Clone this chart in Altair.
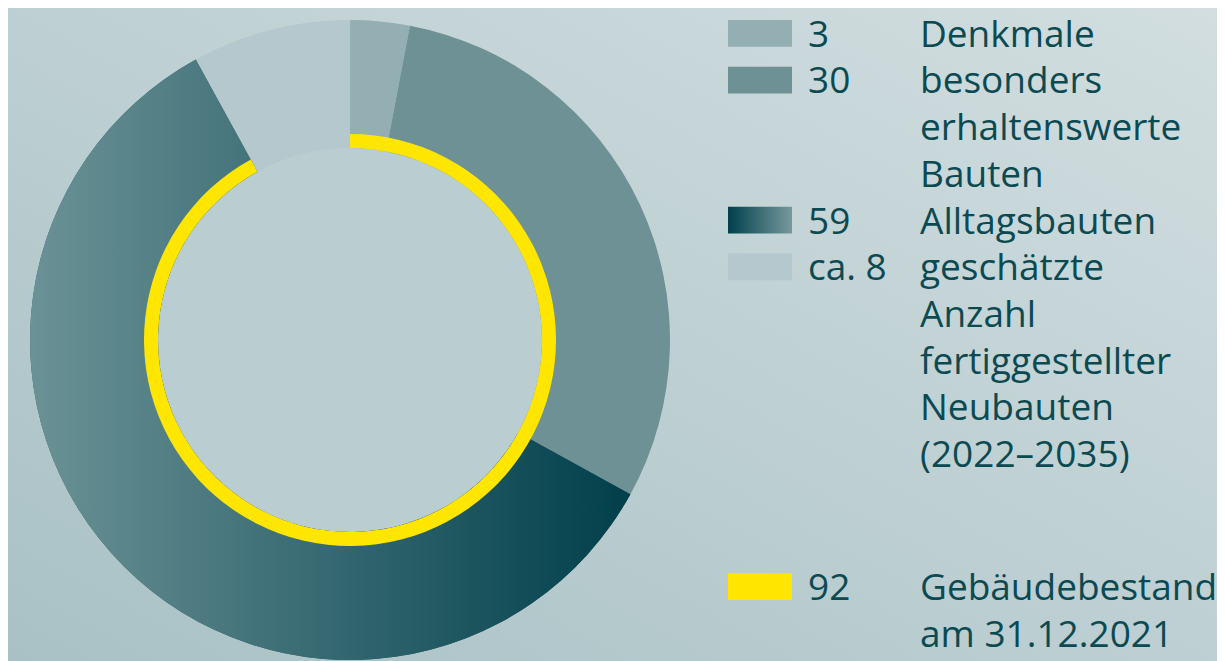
import altair as alt
import pandas as pd

# ---------------- data ----------------
categories = [
    "Denkmale",
    "besonders erhaltenswerte Bauten",
    "Alltagsbauten",
    "geschätzte Anzahl fertiggestellter Neubauten (2022–2035)",
]
values = [3, 30, 59, 8]
value_labels = ["3", "30", "59", "ca. 8"]
desc_lines = [
    ["Denkmale"],
    ["besonders", "erhaltenswerte", "Bauten"],
    ["Alltagsbauten"],
    ["geschätzte", "Anzahl", "fertiggestellter", "Neubauten", "(2022–2035)"],
]
stock_value = 92
stock_value_label = "92"
stock_lines = ["Gebäudebestand", "am 31.12.2021"]
total = 100

# ---------------- styles ----------------
W, H = 1209, 653
CX, CY = 342, 332
R_OUT, R_IN = 320, 192
RING_OUT = 206
seg_colors = ["#93afb4", "#6d9194", "#2f5f67", "#b4c8cd"]
yellow = "#ffe600"
text_color = "#0c4a52"
FONT = "Open Sans"
FS = 37
LH = 46.7
FIRST_BASE = 38.7
STOCK_BASE = 592
SW_X1, SW_X2 = 720, 784
NUM_X, DESC_X = 800, 912
CAP = 26.7

grad_59 = alt.LinearGradient(
    gradient="linear",
    stops=[
        alt.GradientStop(color="#6b9296", offset=0),
        alt.GradientStop(color="#003f4b", offset=1),
    ],
    x1=0, x2=1, y1=0, y2=0,
)
grad_59_legend = alt.LinearGradient(
    gradient="linear",
    stops=[
        alt.GradientStop(color="#00404c", offset=0),
        alt.GradientStop(color="#77999c", offset=1),
    ],
    x1=0, x2=1, y1=0, y2=0,
)
bg_grad = alt.LinearGradient(
    gradient="linear",
    stops=[
        alt.GradientStop(color="#a9c1c5", offset=0),
        alt.GradientStop(color="#d2dee0", offset=1),
    ],
    x1=0, x2=1, y1=1, y2=0,
)

seg_df = pd.DataFrame({
    "cat": categories,
    "value": values,
    "order": list(range(len(categories))),
    "label": value_labels,
    "desc": ["\n".join(l) for l in desc_lines],
})

theta_scale = alt.Scale(domain=[0, total])

# background
bg = alt.Chart(pd.DataFrame({"a": [0]})).mark_rect(color=bg_grad).encode(
    x=alt.value(0), x2=alt.value(W), y=alt.value(0), y2=alt.value(H)
)

# inner disc
inner = alt.Chart(pd.DataFrame({"s": [0], "e": [total]})).mark_arc(
    radius=R_IN, radius2=0, color="#bacdd1"
).encode(
    theta=alt.Theta("s:Q", scale=theta_scale), theta2="e:Q",
    x=alt.value(CX), y=alt.value(CY),
)

stacked = alt.Chart(seg_df).transform_stack(
    stack="value", groupby=[], as_=["start", "end"],
    sort=[alt.SortField("order", order="ascending")],
)

segments = stacked.mark_arc(radius=R_OUT, radius2=R_IN).encode(
    theta=alt.Theta("start:Q", scale=theta_scale), theta2="end:Q",
    color=alt.Color("cat:N", scale=alt.Scale(domain=categories, range=seg_colors), legend=None),
    x=alt.value(CX), y=alt.value(CY),
)

seg_grad = stacked.transform_filter(
    alt.datum.cat == categories[2]
).mark_arc(radius=R_OUT, radius2=R_IN, color=grad_59).encode(
    theta=alt.Theta("start:Q", scale=theta_scale), theta2="end:Q",
    x=alt.value(CX), y=alt.value(CY),
)

ring_df = pd.DataFrame({"start": [0], "end": [stock_value]})
ring = alt.Chart(ring_df).mark_arc(radius=RING_OUT, radius2=R_IN, color=yellow).encode(
    theta=alt.Theta("start:Q", scale=theta_scale), theta2="end:Q",
    x=alt.value(CX), y=alt.value(CY),
)

# legend
legend_layers = []
line_offset = 0
for i, cat in enumerate(categories):
    base = FIRST_BASE + LH * line_offset
    line_offset += len(desc_lines[i])
    sub = alt.Chart(seg_df).transform_filter(alt.datum.cat == cat)
    fill = grad_59_legend if i == 2 else seg_colors[i]
    legend_layers.append(
        sub.mark_rect(color=fill).encode(
            x=alt.value(SW_X1), x2=alt.value(SW_X2),
            y=alt.value(base - CAP), y2=alt.value(base),
        )
    )
    legend_layers.append(
        sub.mark_text(align="left", baseline="alphabetic", font=FONT, fontSize=FS,
                      color=text_color).encode(
            text="label:N", x=alt.value(NUM_X), y=alt.value(base)
        )
    )
    legend_layers.append(
        sub.mark_text(align="left", baseline="alphabetic", font=FONT, fontSize=FS,
                      color=text_color, lineBreak="\n", lineHeight=LH).encode(
            text="desc:N", x=alt.value(DESC_X), y=alt.value(base)
        )
    )

stock_df = pd.DataFrame({"label": [stock_value_label], "desc": ["\n".join(stock_lines)]})
stock_sub = alt.Chart(stock_df)
legend_layers.append(
    stock_sub.mark_rect(color=yellow).encode(
        x=alt.value(SW_X1), x2=alt.value(SW_X2),
        y=alt.value(STOCK_BASE - CAP), y2=alt.value(STOCK_BASE),
    )
)
legend_layers.append(
    stock_sub.mark_text(align="left", baseline="alphabetic", font=FONT, fontSize=FS,
                        color=text_color).encode(
        text="label:N", x=alt.value(NUM_X), y=alt.value(STOCK_BASE)
    )
)
legend_layers.append(
    stock_sub.mark_text(align="left", baseline="alphabetic", font=FONT, fontSize=FS,
                        color=text_color, lineBreak="\n", lineHeight=LH).encode(
        text="desc:N", x=alt.value(DESC_X), y=alt.value(STOCK_BASE)
    )
)

chart = alt.layer(bg, inner, segments, seg_grad, ring, *legend_layers).properties(
    width=W, height=H, padding=0, autosize=alt.AutoSizeParams(type="none"),
    background="#bfd1d4",
).configure_view(stroke=None)

chart.save("out.html", embed_options={"renderer": "svg", "actions": False})
